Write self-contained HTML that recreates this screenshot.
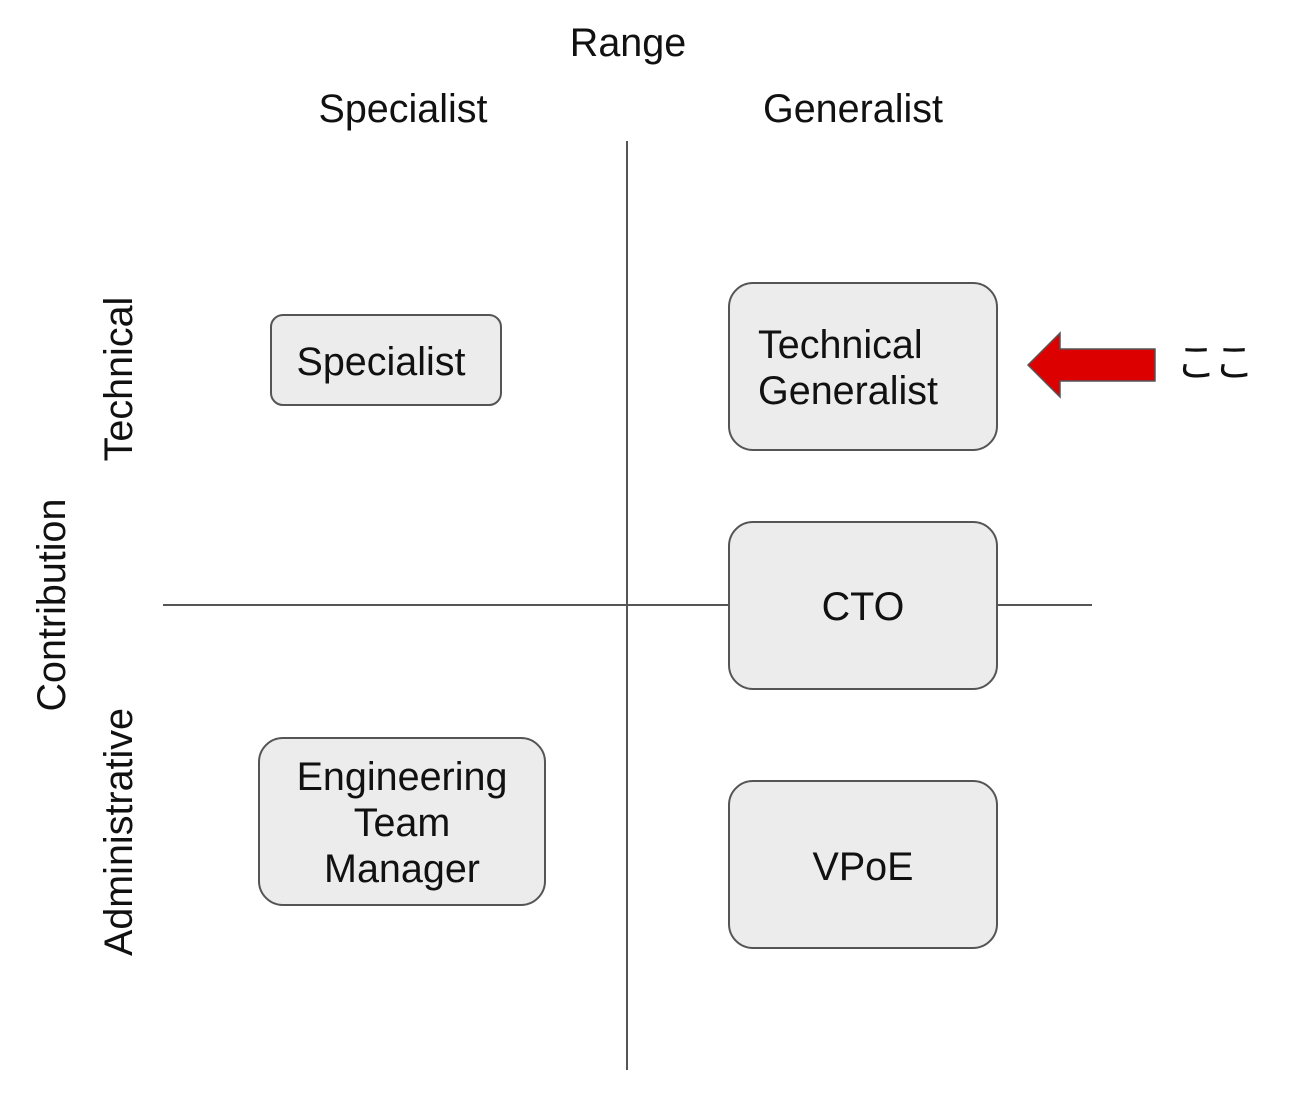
<!DOCTYPE html>
<html><head><meta charset="utf-8"><style>
html,body{margin:0;padding:0;background:#fff;}
svg text{font-family:"Liberation Sans","Noto Sans CJK JP",sans-serif;fill:#111;}
</style></head><body>
<svg width="1300" height="1095" viewBox="0 0 1300 1095" xmlns="http://www.w3.org/2000/svg">
<rect width="1300" height="1095" fill="#fff"/>
<line x1="627" y1="141" x2="627" y2="1070" stroke="#555" stroke-width="2"/>
<line x1="163" y1="605" x2="1092" y2="605" stroke="#555" stroke-width="2"/>
<g font-size="39.5" text-anchor="middle">
<text x="628" y="56">Range</text>
<text x="403" y="122">Specialist</text>
<text x="853" y="122">Generalist</text>
<text transform="translate(132,379) rotate(-90)">Technical</text>
<text transform="translate(132,832) rotate(-90)">Administrative</text>
<text transform="translate(65,605) rotate(-90)">Contribution</text>
</g>
<g fill="#ececec" stroke="#555" stroke-width="2">
<rect x="271" y="315" width="230" height="90" rx="12"/>
<rect x="729" y="283" width="268" height="167" rx="24"/>
<rect x="729" y="522" width="268" height="167" rx="24"/>
<rect x="729" y="781" width="268" height="167" rx="24"/>
<rect x="259" y="738" width="286" height="167" rx="24"/>
</g>
<g font-size="39.5">
<text x="381" y="375" text-anchor="middle">Specialist</text>
<text x="758" y="358">Technical</text>
<text x="758" y="404">Generalist</text>
<text x="863" y="620" text-anchor="middle">CTO</text>
<text x="863" y="880" text-anchor="middle">VPoE</text>
<text x="402" y="790" text-anchor="middle">Engineering</text>
<text x="402" y="836" text-anchor="middle">Team</text>
<text x="402" y="882" text-anchor="middle">Manager</text>
</g>
<polygon points="1028,365 1060,333 1060,349 1155,349 1155,381 1060,381 1060,397" fill="#dd0000" stroke="#555" stroke-width="1.5"/>
<text x="1176" y="376" font-size="40" letter-spacing="-2">ここ</text>
</svg>
</body></html>
